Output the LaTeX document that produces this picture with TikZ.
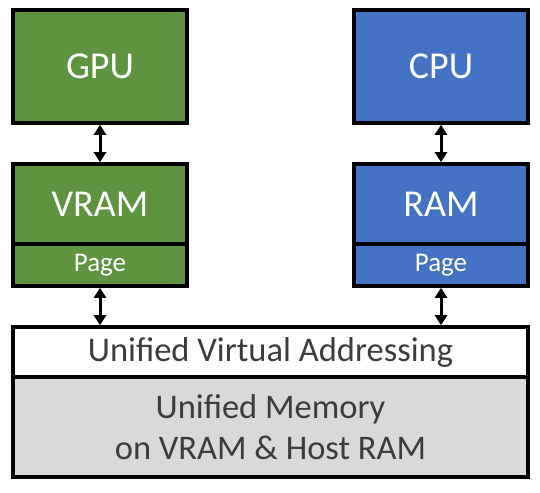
\documentclass[tikz,border=0pt]{standalone}
\usepackage{fontspec}
\setmainfont{Carlito}
\usetikzlibrary{arrows.meta,positioning}
\definecolor{gpugreen}{HTML}{5E9440}
\definecolor{cpublue}{HTML}{4472C4}
\definecolor{umgray}{HTML}{D9D9D9}
\definecolor{umtext}{HTML}{3C3C3C}
\begin{document}
\begin{tikzpicture}[x=1pt,y=-1pt,
  block/.style={draw=black,line width=3.6pt,rectangle,inner sep=0pt,minimum width=174pt,text=white},
  bigtxt/.style={font=\fontsize{38}{44}\selectfont},
  pagetxt/.style={font=\fontsize{27}{32}\selectfont},
  uniblock/.style={draw=black,line width=3.6pt,rectangle,inner sep=0pt,minimum width=515pt,text=umtext,
    align=center,font=\fontsize{34.5}{41}\selectfont},
  link/.style={line width=3pt,{Triangle[length=10pt,width=12pt]}-{Triangle[length=10pt,width=12pt]}}]
  \useasboundingbox (0,0) rectangle (540,492);
  % GPU side
  \node[block,bigtxt,fill=gpugreen,minimum height=113pt] (gpu) at (100,66.5) {GPU};
  \node[block,bigtxt,fill=gpugreen,minimum height=80pt] (vram) at (100,204) {VRAM};
  \node[block,pagetxt,fill=gpugreen,minimum height=42pt] (vpage) at (100,265) {Page};
  % CPU side
  \node[block,bigtxt,fill=cpublue,minimum height=113pt] (cpu) at (441,66.5) {CPU};
  \node[block,bigtxt,fill=cpublue,minimum height=80pt] (ram) at (441,204) {RAM};
  \node[block,pagetxt,fill=cpublue,minimum height=42pt] (rpage) at (441,265) {Page};
  % Unified memory
  \node[uniblock,fill=white,minimum height=50pt] (uva) at (270.5,352) {Unified Virtual Addressing};
  \node[uniblock,fill=umgray,minimum height=100pt] (um) at (270.5,427) {Unified Memory\\on VRAM \& Host RAM};
  % Links
  \draw[link] (gpu) -- (vram);
  \draw[link] (cpu) -- (ram);
  \foreach \p in {vpage,rpage}
    \draw[link] (\p.south) -- (\p.south |- uva.north);
\end{tikzpicture}
\end{document}
